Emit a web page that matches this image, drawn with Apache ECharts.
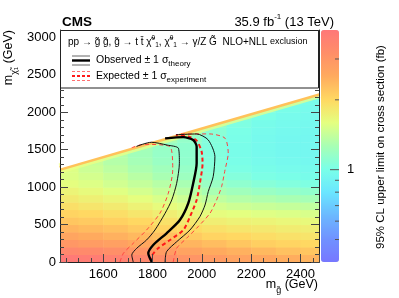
<!DOCTYPE html>
<html><head><meta charset="utf-8">
<script src="https://cdn.jsdelivr.net/npm/echarts@6/dist/echarts.min.js"></script>
<style>html,body{margin:0;padding:0;background:#fff}#c{width:399px;height:298px}</style>
</head><body><div id="c"></div>
<script>
const FF = '"Liberation Sans", Arial, Helvetica, sans-serif';

// gluino mass bin centres (GeV) and neutralino mass bin centres (GeV)
const mgCenters = [1450,1550,1650,1750,1850,1950,2050,2150,2250,2350,2450];
const mchiCenters = [50,150,250,350,450,550,650,750,850,950,1050,1150,1250,1350,1450,1550,1650,1750,1850,1950,2050,2150,2250];
// 95% CL upper limit on cross section (fb), one row per mchi centre
const limitRows = [
  [3.9,3.8,3.6,3.4,3.2,3.0,2.85,2.7,2.6,2.5,2.4],
  [3.4,3.3,3.15,3.0,2.85,2.7,2.55,2.45,2.35,2.25,2.2],
  [2.95,2.85,2.75,2.6,2.5,2.4,2.3,2.2,2.1,2.05,2.0],
  [2.65,2.55,2.45,2.35,2.25,2.15,2.05,2.0,1.95,1.9,1.87],
  [2.4,2.32,2.25,2.15,2.05,1.97,1.9,1.85,1.82,1.78,1.76],
  [2.2,2.15,2.08,2.0,1.9,1.82,1.76,1.72,1.7,1.67,1.65],
  [2.05,2.0,1.93,1.85,1.76,1.68,1.62,1.59,1.56,1.54,1.52],
  [1.92,1.86,1.8,1.72,1.63,1.56,1.5,1.46,1.43,1.41,1.39],
  [1.8,1.74,1.68,1.6,1.52,1.45,1.38,1.33,1.3,1.27,1.25],
  [1.7,1.64,1.57,1.5,1.42,1.35,1.27,1.22,1.18,1.15,1.13],
  [1.6,1.55,1.48,1.41,1.34,1.27,1.18,1.12,1.08,1.05,1.03],
  [1.55,1.5,1.43,1.35,1.27,1.2,1.12,1.06,1.02,1.0,0.98],
  [1.55,1.45,1.37,1.29,1.22,1.16,1.08,1.02,0.99,0.97,0.96],
  [1.6,1.42,1.33,1.25,1.18,1.13,1.06,1.0,0.97,0.95,0.94],
  [null,1.5,1.32,1.23,1.16,1.12,1.05,0.99,0.96,0.94,0.93],
  [null,null,1.45,1.25,1.17,1.12,1.05,0.99,0.96,0.94,0.93],
  [null,null,null,1.45,1.25,1.15,1.06,1.0,0.96,0.94,0.93],
  [null,null,null,null,1.45,1.21,1.09,1.01,0.97,0.95,0.94],
  [null,null,null,null,null,1.42,1.13,1.03,0.98,0.96,0.95],
  [null,null,null,null,null,null,1.4,1.09,1.01,0.97,0.96],
  [null,null,null,null,null,null,null,1.34,1.05,0.99,0.97],
  [null,null,null,null,null,null,null,null,1.3,1.03,0.99],
  [null,null,null,null,null,null,null,null,null,1.24,1.01]
];
// kinematic boundary of the scanned region
const boundaryMg = [1425, 1800, 2475];
const boundaryMchi = [1251, 1609, 2254];

// observed exclusion and +-1 sigma theory
const obsMg   = [1797,1783,1803,1857,1911,1945,1965,1979,1979,1965,1925,1851];
const obsMchi = [0,116,227,384,561,785,1052,1319,1541,1631,1668,1652];
const obsUpMg   = [1851,1857,1898,1952,1992,2013,2026,2046,2053,2026,1979,1895];
const obsUpMchi = [0,138,271,428,606,762,940,1140,1408,1631,1711,1700];
const obsDownMg   = [1722,1716,1736,1776,1810,1851,1878,1898,1909,1905,1860,1795,1735];
const obsDownMchi = [0,94,183,294,428,651,829,1052,1319,1520,1562,1600,1545];
// expected exclusion and +-1 sigma experiment
const expMg   = [1797,1797,1823,1871,1925,1952,1979,1992,2003,1999,1979,1945,1895];
const expMchi = [0,71,183,294,428,606,829,1052,1319,1475,1622,1676,1698];
const expUpMg   = [1884,1898,1938,1985,2033,2060,2080,2094,2107,2094,2033,1911];
const expUpMchi = [0,183,317,472,651,829,1007,1230,1453,1654,1711,1712];
const expDownMg   = [1668,1682,1722,1776,1830,1864,1882,1871,1763,1716];
const expDownMchi = [0,116,250,428,651,918,1230,1541,1572,1527];

// colour bar
const cbMin = 0.4, cbMax = 4;
const cbTickValues = [0.5,0.6,0.7,0.8,0.9,1,2,3];
const cbLabelValues = [1];
const palette = ['#7777ff','#7092ff','#6cb8ff','#6ae6ff','#7affe8','#a8ffb4','#e4ff80','#ffd862','#ffab5e','#ff8e68','#ff7878'];

const X_MIN = 1425, X_MAX = 2475, Y_MIN = 0, Y_MAX = 3100;

const cells = [];
mchiCenters.forEach((y,i)=>mgCenters.forEach((x,j)=>{
  const v = limitRows[i][j];
  if (v != null) cells.push([x, y, Math.log10(v), v]);
}));
const halfMg = (mgCenters[1]-mgCenters[0])/2, halfMchi = (mchiCenters[1]-mchiCenters[0])/2;
const pairs = (a,b)=>a.map((v,i)=>[v,b[i]]);
const fmt = v => String(Math.round(v));

const chart = echarts.init(document.getElementById('c'), null, {renderer:'canvas'});
const axisCommon = {
  axisLine:{show:true, lineStyle:{color:'#222', width:1}},
  axisTick:{show:true, inside:true, length:8, lineStyle:{color:'#444', width:1}},
  minorTick:{show:true, length:4, lineStyle:{color:'#444', width:1}},
  splitLine:{show:false}, z:10
};
const cont = (data, color, width, dash, z) => ({
  type:'line', xAxisIndex:0, yAxisIndex:0, data, showSymbol:false, symbol:'none', smooth:0.25,
  lineStyle:{color, width, type: dash ? [4,3] : 'solid'}, z, silent:true, animation:false
});

const option = {
  animation:false,
  grid:[
    {left:60, top:30, right:80, bottom:36, outerBoundsMode:'none', containLabel:false},
    {left:321, top:30, width:18, height:232, outerBoundsMode:'none', containLabel:false}
  ],
  xAxis:[
    Object.assign({}, axisCommon, {type:'value', gridIndex:0, min:X_MIN, max:X_MAX, splitNumber:5,
      minorTick:{show:true, splitNumber:4, length:4, lineStyle:{color:'#444'}},
      axisLabel:{fontFamily:FF, fontSize:13, color:'#000', margin:6, showMinLabel:false, showMaxLabel:false, formatter:fmt}}),
    Object.assign({}, axisCommon, {type:'value', gridIndex:0, position:'top', min:X_MIN, max:X_MAX, splitNumber:5,
      axisTick:{show:false}, minorTick:{show:false}, axisLabel:{show:false}}),
    {type:'value', gridIndex:1, min:0, max:1, show:false}
  ],
  yAxis:[
    Object.assign({}, axisCommon, {type:'value', gridIndex:0, min:Y_MIN, max:Y_MAX, interval:500,
      minorTick:{show:true, splitNumber:5, length:4, lineStyle:{color:'#444'}},
      axisLabel:{fontFamily:FF, fontSize:13, color:'#000', margin:4, showMaxLabel:false, formatter:fmt}}),
    Object.assign({}, axisCommon, {type:'value', gridIndex:0, position:'right', min:Y_MIN, max:Y_MAX, interval:500,
      minorTick:{show:true, splitNumber:5, length:4, lineStyle:{color:'#444'}},
      axisLabel:{show:false}}),
    {type:'value', gridIndex:1, min:Math.log10(cbMin), max:Math.log10(cbMax), show:false}
  ],
  visualMap:{
    type:'continuous', seriesIndex:0, dimension:2,
    min:Math.log10(cbMin), max:Math.log10(cbMax),
    inRange:{color:palette}, calculable:false, realtime:false, hoverLink:false,
    orient:'vertical', left:321, top:30, itemWidth:18, itemHeight:232, padding:0, text:null,
    textStyle:{fontSize:0}
  },
  series:[
    {type:'custom', xAxisIndex:0, yAxisIndex:0, data:cells, silent:true, z:1,
     renderItem:(params, api)=>{
       const x = api.value(0), y = api.value(1);
       const a = api.coord([x-halfMg, y-halfMchi]);
       const b = api.coord([x+halfMg, y+halfMchi]);
       const cs = params.coordSys;
       const r = echarts.graphic.clipRectByRect(
         {x:a[0], y:b[1], width:b[0]-a[0], height:a[1]-b[1]},
         {x:cs.x, y:cs.y, width:cs.width, height:cs.height});
       if (!r) return;
       return {type:'rect', shape:{x:r.x, y:r.y, width:r.width+0.5, height:r.height+0.5},
               style:{fill:api.visual('color')}};
     }},
    {type:'line', xAxisIndex:0, yAxisIndex:0, data:pairs(boundaryMg, boundaryMchi), showSymbol:false, symbol:'none',
     lineStyle:{color:'rgba(240,255,130,0.7)', width:10}, z:2, silent:true},
    {type:'line', xAxisIndex:0, yAxisIndex:0, data:pairs(boundaryMg, boundaryMchi), showSymbol:false, symbol:'none',
     lineStyle:{color:'#ffc25a', width:5}, z:3, silent:true},
    {type:'custom', xAxisIndex:0, yAxisIndex:0, data:[[0]], silent:true, z:4,
     renderItem:(params, api)=>{
       const pts = boundaryMg.map((m,i)=>api.coord([m, boundaryMchi[i]]));
       pts.push(api.coord([boundaryMg[boundaryMg.length-1], Y_MAX]));
       pts.push(api.coord([boundaryMg[0], Y_MAX]));
       return {type:'polygon', shape:{points:pts}, style:{fill:'#fff'}};
     }},
    cont(pairs(expUpMg, expUpMchi), '#ff4040', 1, true, 5),
    cont(pairs(expDownMg, expDownMchi), '#ff4040', 1, true, 5),
    cont(pairs(expMg, expMchi), '#ff1a1a', 2, true, 6),
    cont(pairs(obsUpMg, obsUpMchi), '#111', 1, false, 7),
    cont(pairs(obsDownMg, obsDownMchi), '#111', 1, false, 7),
    cont(pairs(obsMg, obsMchi), '#000', 2.4, false, 8),
    {type:'custom', xAxisIndex:2, yAxisIndex:2, silent:true, z:20,
     data:cbTickValues.map(v=>[1, Math.log10(v), v]),
     renderItem:(params, api)=>{
       const v = api.value(2);
       const p = api.coord([api.value(0), api.value(1)]);
       const major = cbLabelValues.indexOf(v) >= 0;
       const len = major ? 9 : 4;
       const children = [{type:'line', shape:{x1:p[0]-len, y1:p[1], x2:p[0], y2:p[1]},
                          style:{stroke:'#555', lineWidth:1}}];
       if (major) children.push({type:'text', x:p[0]+8, y:p[1],
         style:{text:String(v), fontFamily:FF, fontSize:13, fill:'#000', align:'left', verticalAlign:'middle'}});
       return {type:'group', children};
     }}
  ],
  graphic:[
    {type:'rect', z:100, shape:{x:60.5, y:30.5, width:258, height:57.5}, style:{fill:'#fff', stroke:'#222', lineWidth:1}},
    {type:'text', z:101, x:68, y:42, style:{
      text:'pp → g\u0303 g\u0303, g\u0303 → t t\u0304 \u03c7\u0303{u|0}{d|1}, \u03c7\u0303{u|0}{d|1} → γ/Z G\u0303  NLO+NLL {e|exclusion}',
      fontFamily:FF, fontSize:10, fill:'#000', align:'left', verticalAlign:'middle',
      rich:{u:{fontSize:6.5, verticalAlign:'top', lineHeight:14, fontFamily:FF},
            d:{fontSize:6.5, verticalAlign:'bottom', lineHeight:14, fontFamily:FF},
            e:{fontSize:9, fontFamily:FF}}}},
    {type:'line', z:101, shape:{x1:72, y1:56, x2:90, y2:56}, style:{stroke:'#666', lineWidth:1}},
    {type:'line', z:101, shape:{x1:72, y1:60.5, x2:90, y2:60.5}, style:{stroke:'#000', lineWidth:2.4}},
    {type:'line', z:101, shape:{x1:72, y1:65, x2:90, y2:65}, style:{stroke:'#666', lineWidth:1}},
    {type:'text', z:101, x:96, y:60, style:{text:'Observed ± 1 σ{s|theory}', fontFamily:FF, fontSize:10.5, fill:'#000',
      align:'left', verticalAlign:'middle', rich:{s:{fontSize:8, verticalAlign:'bottom', lineHeight:16, fontFamily:FF}}}},
    {type:'line', z:101, shape:{x1:72, y1:71.5, x2:90, y2:71.5}, style:{stroke:'#ff7070', lineWidth:1, lineDash:[3,2]}},
    {type:'line', z:101, shape:{x1:72, y1:76, x2:90, y2:76}, style:{stroke:'#ff1a1a', lineWidth:2, lineDash:[3,2]}},
    {type:'line', z:101, shape:{x1:72, y1:80.5, x2:90, y2:80.5}, style:{stroke:'#ff7070', lineWidth:1, lineDash:[3,2]}},
    {type:'text', z:101, x:96, y:76, style:{text:'Expected ± 1 σ{s|experiment}', fontFamily:FF, fontSize:10.5, fill:'#000',
      align:'left', verticalAlign:'middle', rich:{s:{fontSize:8, verticalAlign:'bottom', lineHeight:16, fontFamily:FF}}}},
    {type:'text', z:101, x:62, y:22, style:{text:'CMS', fontFamily:FF, fontSize:13.5, fontWeight:'bold', fill:'#000',
      align:'left', verticalAlign:'middle'}},
    {type:'text', z:101, x:334, y:22, style:{text:'35.9 fb{u|-1} (13 TeV)', fontFamily:FF, fontSize:13, fill:'#000',
      align:'right', verticalAlign:'middle', rich:{u:{fontSize:8, verticalAlign:'top', lineHeight:18, fontFamily:FF}}}},
    {type:'text', z:101, x:9, y:30, rotation:Math.PI/2, style:{text:'m{s|\u03c7\u0303}{t|1} (GeV)', fontFamily:FF, fontSize:12.5, fill:'#000',
      align:'right', verticalAlign:'middle', rich:{s:{fontSize:9, verticalAlign:'bottom', lineHeight:20, fontFamily:FF},
      t:{fontSize:6, verticalAlign:'bottom', lineHeight:20, fontFamily:FF}}}},
    {type:'text', z:101, x:318, y:285, style:{text:'m{s|g\u0303} (GeV)', fontFamily:FF, fontSize:12.5, fill:'#000',
      align:'right', verticalAlign:'middle', rich:{s:{fontSize:9, verticalAlign:'bottom', lineHeight:20, fontFamily:FF}}}},
    {type:'text', z:101, x:381, y:147, rotation:Math.PI/2, style:{text:'95% CL upper limit on cross section (fb)',
      fontFamily:FF, fontSize:11.5, fill:'#000', align:'center', verticalAlign:'middle'}}
  ]
};
chart.setOption(option);
</script>
</body></html>
